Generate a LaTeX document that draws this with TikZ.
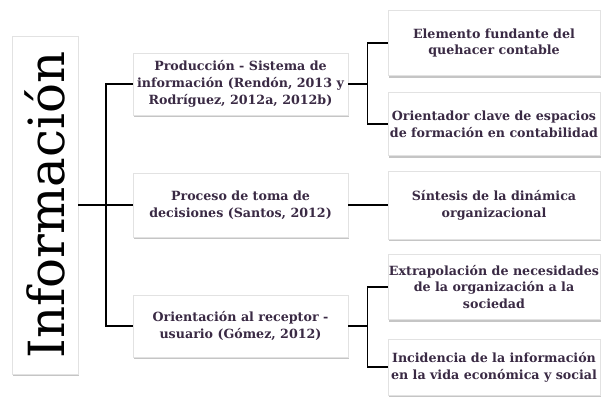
\documentclass[tikz,border=0pt]{standalone}
\usepackage{fontspec}
\setmainfont{DejaVu Serif}
\usetikzlibrary{positioning,shadows}
\definecolor{InkPurple}{HTML}{3A2A44}
\definecolor{BoxEdge}{HTML}{E2E2E2}

\begin{document}
\begin{tikzpicture}[x=1bp,y=-1bp,line width=1.3bp]
\tikzstyle{blk}=[draw=BoxEdge,line width=0.5bp,fill=white,align=center,inner sep=1bp,text=InkPurple,font=\fontsize{12.7}{17}\selectfont\bfseries,drop shadow={shadow xshift=0.6bp,shadow yshift=-2bp,fill=black!45}]
\tikzstyle{midblk}=[blk,minimum width=215bp,minimum height=62bp]
\tikzstyle{outblk}=[blk,minimum width=212bp,minimum height=63bp]
\useasboundingbox (0,0) rectangle (602,398);
% root
\node[blk,minimum width=66bp,minimum height=338bp,font=\fontsize{50}{55}\selectfont,text=black] (info) at (45,205) {\rotatebox{90}{Información}};
% middle level
\node[midblk] (prod) at (240.5,84) {Producción - Sistema de\\información (Rendón, 2013 y\\Rodríguez, 2012a, 2012b)};
\node[midblk,minimum height=64bp] (dec) at (240.5,205) {Proceso de toma de\\decisiones (Santos, 2012)};
\node[midblk] (rec) at (240.5,326) {Orientación al receptor -\\usuario (Gómez, 2012)};
% right level
\node[outblk,minimum height=65bp] (fund) at (494,43) {Elemento fundante del\\quehacer contable};
\node[outblk] (orient) at (494,124) {Orientador clave de espacios\\de formación en contabilidad};
\node[outblk,minimum height=68bp] (sint) at (494,205) {Síntesis de la dinámica\\organizacional};
\node[outblk,minimum height=65bp] (extra) at (494,287) {Extrapolación de necesidades\\de la organización a la\\sociedad};
\node[outblk,minimum height=56bp] (inc) at (494,367) {Incidencia de la información\\en la vida económica y social};
% connectors
\coordinate (j0) at (106,205);
\draw (info.east) -- (dec.west);
\draw (prod.west) -| (j0) |- (rec.west);
\draw (prod.east) -- ++(19,0) coordinate (j1);
\draw (fund.west) -| (j1) |- (orient.west);
\draw (dec.east) -- (sint.west);
\draw (rec.east) -- ++(19,0) coordinate (j2);
\draw (extra.west) -| (j2) |- (inc.west);
\end{tikzpicture}
\end{document}
